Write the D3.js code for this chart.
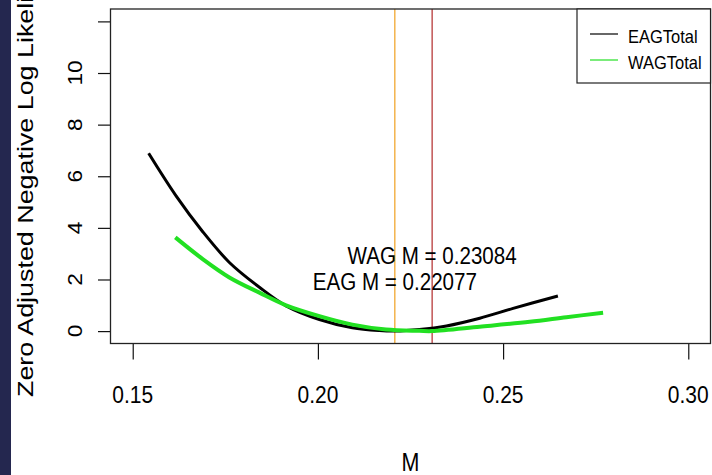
<!DOCTYPE html>
<html>
<head>
<meta charset="utf-8">
<script src="https://cdn.jsdelivr.net/npm/d3@7"></script>
<style>
  html, body { margin: 0; padding: 0; background: #fff; }
  svg { display: block; }
  text { font-family: "Liberation Sans", Arial, Helvetica, sans-serif; fill: #000; }
</style>
</head>
<body>
<script>
// Profile curves: zero-adjusted negative log likelihood against natural mortality M
const eagM   = [0.1543, 0.1617, 0.1688, 0.1761, 0.1842, 0.1914, 0.2004, 0.2093, 0.2166, 0.2208, 0.2274, 0.2347, 0.2437, 0.2527, 0.2648];
const eagNLL = [6.89, 5.24, 3.87, 2.66, 1.70, 0.98, 0.45, 0.13, 0.02, 0.00, 0.06, 0.20, 0.50, 0.88, 1.36];
const wagM   = [0.1615, 0.1689, 0.1761, 0.1842, 0.1914, 0.2004, 0.2093, 0.2184, 0.2274, 0.2308, 0.2437, 0.2572, 0.2671, 0.2770];
const wagNLL = [3.63, 2.79, 2.08, 1.49, 1.00, 0.58, 0.25, 0.06, 0.01, 0.00, 0.17, 0.36, 0.54, 0.71];

// Best estimates of M for each stock
const bestEAG = 0.22077;
const bestWAG = 0.23084;

const xTicks = [0.15, 0.20, 0.25, 0.30];
const xTickLabels = ["0.15", "0.20", "0.25", "0.30"];
const yTicks = [0, 2, 4, 6, 8, 10, 12];
const yTickLabels = ["0", "2", "4", "6", "8", "10", ""];

const seriesNames = ["EAGTotal", "WAGTotal"];
const seriesColors = ["#000000", "#22e022"];

const W = 712, H = 475;
const box = { left: 110.5, right: 710.5, top: 9, bottom: 343.5 };

const svg = d3.select("body").append("svg").attr("width", W).attr("height", H);

// dark strip along the left edge
svg.append("rect").attr("x", 0).attr("y", 0).attr("width", 11).attr("height", H).attr("fill", "#24274f");

// axis limits 0.15–0.30 and 0–12, padded by 4% as in base graphics
const xPad = (0.30 - 0.15) * 0.04, yPad = 12 * 0.04;
const x = d3.scaleLinear().domain([0.15 - xPad, 0.30 + xPad]).range([box.left, box.right]);
const y = d3.scaleLinear().domain([-yPad, 12 + yPad]).range([box.bottom, box.top]);

const line = d3.line().x(d => x(d[0])).y(d => y(d[1])).curve(d3.curveCatmullRom.alpha(0.5));

// x axis ticks
svg.append("g")
  .attr("transform", `translate(0,${box.bottom})`)
  .call(d3.axisBottom(x).tickValues(xTicks).tickSize(16).tickFormat(""))
  .call(g => g.select(".domain").remove())
  .call(g => g.selectAll("line").attr("stroke", "#111").attr("stroke-width", 1.2));

svg.append("g").selectAll("text").data(xTicks).join("text")
  .attr("transform", d => `translate(${x(d)},403) scale(1,1.12)`)
  .attr("text-anchor", "middle").attr("font-size", 21)
  .text((d, i) => xTickLabels[i]);

// y axis ticks
svg.append("g")
  .attr("transform", `translate(${box.left},0)`)
  .call(d3.axisLeft(y).tickValues(yTicks).tickSize(12.5).tickFormat(""))
  .call(g => g.select(".domain").remove())
  .call(g => g.selectAll("line").attr("stroke", "#111").attr("stroke-width", 1.2));

svg.append("g").selectAll("text").data(yTicks).join("text")
  .attr("transform", d => `translate(82,${y(d)}) scale(1,1.1) rotate(-90)`)
  .attr("text-anchor", "middle").attr("font-size", 20.5)
  .text((d, i) => yTickLabels[i]);

// axis titles
svg.append("text")
  .attr("transform", `translate(${(box.left + box.right) / 2},471) scale(1,1.18)`)
  .attr("text-anchor", "middle").attr("font-size", 21.5)
  .text("M");

svg.append("text")
  .attr("transform", `translate(33,397) scale(1,1.25) rotate(-90)`)
  .attr("text-anchor", "start").attr("font-size", 21.5)
  .text("Zero Adjusted Negative Log Likelihood");

// reference lines at the best estimates
svg.append("line")
  .attr("x1", x(bestEAG)).attr("x2", x(bestEAG)).attr("y1", box.top).attr("y2", box.bottom)
  .attr("stroke", "#f0a020").attr("stroke-width", 1.2);
svg.append("line")
  .attr("x1", x(bestWAG)).attr("x2", x(bestWAG)).attr("y1", box.top).attr("y2", box.bottom)
  .attr("stroke", "#b22a2a").attr("stroke-width", 1.2);

// profile curves
svg.append("path").datum(d3.zip(eagM, eagNLL))
  .attr("d", line).attr("fill", "none").attr("stroke", seriesColors[0]).attr("stroke-width", 3);
svg.append("path").datum(d3.zip(wagM, wagNLL))
  .attr("d", line).attr("fill", "none").attr("stroke", seriesColors[1]).attr("stroke-width", 4);

// annotations of the estimates
svg.append("text")
  .attr("transform", `translate(${x(bestWAG)},${y(3) + 10.5}) scale(1,1.12)`)
  .attr("text-anchor", "middle").attr("font-size", 20.6)
  .text("WAG M = " + bestWAG.toFixed(5));
svg.append("text")
  .attr("transform", `translate(${x(bestEAG)},${y(2) + 10.5}) scale(1,1.12)`)
  .attr("text-anchor", "middle").attr("font-size", 20.6)
  .text("EAG M = " + bestEAG.toFixed(5));

// plot frame
svg.append("rect")
  .attr("x", box.left).attr("y", box.top)
  .attr("width", box.right - box.left).attr("height", box.bottom - box.top)
  .attr("fill", "none").attr("stroke", "#222").attr("stroke-width", 1.3);

// legend
const lg = svg.append("g");
lg.append("rect").attr("x", 577).attr("y", box.top).attr("width", box.right - 577).attr("height", 83 - box.top)
  .attr("fill", "#fff").attr("stroke", "#222").attr("stroke-width", 1.2);
seriesNames.forEach((name, i) => {
  const cy = 34 + i * 26;
  lg.append("line").attr("x1", 590).attr("x2", 618).attr("y1", cy).attr("y2", cy)
    .attr("stroke", seriesColors[i]).attr("stroke-width", 1.2);
  lg.append("text")
    .attr("transform", `translate(628,${cy + 9}) scale(1,1.15)`)
    .attr("font-size", 16.5)
    .text(name);
});
</script>
</body>
</html>
